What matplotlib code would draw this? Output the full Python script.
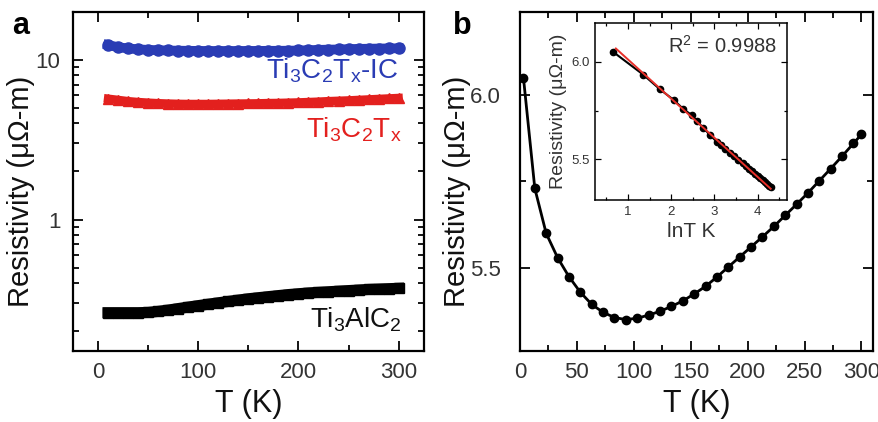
import matplotlib
matplotlib.use('Agg')
import matplotlib.pyplot as plt
from matplotlib.ticker import MultipleLocator, LogLocator, NullFormatter, FixedLocator

plt.rcParams['font.family'] = 'Liberation Sans'
plt.rcParams['mathtext.fontset'] = 'custom'
plt.rcParams['mathtext.rm'] = 'Liberation Sans'
plt.rcParams['mathtext.it'] = 'Liberation Sans:italic'

# panel a: resistivity vs T (log scale)
T_a = [10, 20, 30, 40, 50, 60, 70, 80, 90, 100, 110, 120, 130, 140, 150,
       160, 170, 180, 190, 200, 210, 220, 230, 240, 250, 260, 270, 280, 290, 300]
rho_ic = [12.4, 12.0, 11.8, 11.65, 11.55, 11.5, 11.45, 11.42, 11.4, 11.38, 11.37, 11.37, 11.37, 11.37, 11.38,
          11.38, 11.4, 11.4, 11.42, 11.45, 11.5, 11.55, 11.6, 11.62, 11.68, 11.72, 11.75, 11.78, 11.8, 11.82]
rho_mx = [5.72, 5.62, 5.52, 5.45, 5.40, 5.36, 5.33, 5.31, 5.30, 5.30, 5.30, 5.31, 5.32, 5.33, 5.34,
          5.35, 5.37, 5.38, 5.40, 5.42, 5.45, 5.48, 5.52, 5.55, 5.58, 5.62, 5.66, 5.70, 5.74, 5.78]
rho_max = [0.261, 0.261, 0.261, 0.261, 0.262, 0.266, 0.271, 0.277, 0.283, 0.289, 0.295, 0.301, 0.307, 0.313, 0.319,
           0.324, 0.329, 0.334, 0.339, 0.343, 0.347, 0.350, 0.353, 0.356, 0.359, 0.362, 0.365, 0.367, 0.369, 0.371]

# panel b: Ti3C2Tx-IC resistivity vs T
T_b = [3, 13, 23, 33, 43, 53, 63, 73, 83, 93, 103, 113, 123, 133, 143, 153, 163,
       173, 183, 193, 203, 213, 223, 233, 243, 253, 263, 273, 283, 293, 300]
rho_b = [6.05, 5.73, 5.60, 5.53, 5.475, 5.43, 5.395, 5.372, 5.357, 5.351, 5.355, 5.364, 5.375, 5.389, 5.405,
         5.425, 5.447, 5.474, 5.503, 5.532, 5.561, 5.590, 5.620, 5.652, 5.684, 5.717, 5.752, 5.787, 5.823,
         5.860, 5.886]

# inset: resistivity vs lnT with linear fit
lnT = [0.66, 1.35, 1.74, 2.06, 2.28, 2.47, 2.59, 2.74, 2.89, 3.05, 3.15, 3.25, 3.35, 3.45, 3.55, 3.65,
       3.72, 3.80, 3.87, 3.94, 4.00, 4.06, 4.12, 4.17, 4.22, 4.27, 4.30]
rho_ln = [6.051, 5.935, 5.859, 5.804, 5.758, 5.727, 5.696, 5.662, 5.625, 5.590, 5.571, 5.552, 5.534,
          5.515, 5.497, 5.478, 5.465, 5.450, 5.437, 5.424, 5.413, 5.402, 5.391, 5.381, 5.372, 5.363, 5.357]
fit_x = [0.72, 4.30]
fit_slope = -0.2014
fit_icpt = 6.214

fig = plt.figure(figsize=(8.79, 4.22), dpi=100)
gray = '#333333'


def style(ax, lw=1.6, size=16, maj=7, mnr=4):
    for s in ax.spines.values():
        s.set_linewidth(lw)
    ax.tick_params(which='both', direction='in', top=True, right=True,
                   width=lw * 0.8, labelsize=size, labelcolor=gray)
    ax.tick_params(which='major', length=maj)
    ax.tick_params(which='minor', length=mnr)


# ---- panel a
ax1 = fig.add_axes([0.083, 0.168, 0.399, 0.804])
ax1.plot(T_a, rho_ic, '-o', color='#2a3cb4', lw=7, ms=8)
ax1.plot(T_a, rho_mx, '-^', color='#e3201e', lw=6, ms=7)
ax1.plot(T_a, rho_max, '-s', color='black', lw=8, ms=7)
ax1.set_yscale('log')
ax1.set_xlim(-25, 325)
ax1.set_ylim(0.15, 20)
ax1.xaxis.set_major_locator(MultipleLocator(100))
ax1.xaxis.set_minor_locator(MultipleLocator(50))
ax1.yaxis.set_major_locator(FixedLocator([1, 10]))
ax1.yaxis.set_major_formatter(plt.FixedFormatter(['1', '10']))
ax1.yaxis.set_minor_locator(LogLocator(base=10, subs=range(2, 10)))
ax1.yaxis.set_minor_formatter(NullFormatter())
style(ax1)
ax1.tick_params(axis='x', pad=8)
ax1.tick_params(axis='y', pad=9)
ax1.set_xlabel('T (K)', fontsize=22, color='#111111')
ax1.set_ylabel('Resistivity (\u03bc\u03a9-m)', fontsize=21, color='#111111')
ax1.yaxis.set_label_coords(-0.108, 0.47)

ax1.text(300, 7.6, r'Ti$_\mathregular{3}$C$_\mathregular{2}$T$_\mathregular{x}$-IC', color='#2a3cb4',
         fontsize=20, ha='right', va='baseline')
ax1.text(303, 3.25, r'Ti$_\mathregular{3}$C$_\mathregular{2}$T$_\mathregular{x}$', color='#e3201e',
         fontsize=20, ha='right', va='baseline')
ax1.text(303, 0.212, r'Ti$_\mathregular{3}$AlC$_\mathregular{2}$', color='#111111',
         fontsize=20, ha='right', va='baseline')
fig.text(0.014, 0.92, 'a', fontsize=22, fontweight='bold')

# ---- panel b
ax2 = fig.add_axes([0.5916, 0.168, 0.4014, 0.804])
ax2.plot(T_b, rho_b, '-o', color='black', lw=2, ms=6)
ax2.set_xlim(0, 310)
ax2.set_ylim(5.26, 6.24)
ax2.xaxis.set_major_locator(MultipleLocator(50))
ax2.xaxis.set_minor_locator(MultipleLocator(25))
ax2.yaxis.set_major_locator(MultipleLocator(0.5))
ax2.yaxis.set_minor_locator(MultipleLocator(0.25))
ax2.yaxis.set_major_formatter(plt.FormatStrFormatter('%.1f'))
style(ax2)
ax2.tick_params(axis='x', pad=8)
ax2.tick_params(axis='y', pad=14)
ax2.set_xlabel('T (K)', fontsize=22, color='#111111')
ax2.set_ylabel('Resistivity (\u03bc\u03a9-m)', fontsize=21, color='#111111')
ax2.yaxis.set_label_coords(-0.14, 0.47)
fig.text(0.515, 0.92, 'b', fontsize=22, fontweight='bold')

# ---- inset
ax3 = fig.add_axes([0.677, 0.526, 0.218, 0.4195])
ax3.plot(lnT, rho_ln, '-o', color='black', lw=1.5, ms=4.5)
ax3.plot(fit_x, [fit_icpt + fit_slope * x for x in fit_x], color='#e8302a', lw=1.4)
ax3.set_xlim(0.24, 4.67)
ax3.set_ylim(5.29, 6.2)
ax3.xaxis.set_major_locator(MultipleLocator(1))
ax3.xaxis.set_minor_locator(MultipleLocator(0.5))
ax3.yaxis.set_major_locator(MultipleLocator(0.5))
ax3.yaxis.set_minor_locator(MultipleLocator(0.25))
ax3.yaxis.set_major_formatter(plt.FormatStrFormatter('%.1f'))
style(ax3, lw=1.1, size=9.5, maj=4, mnr=2.5)
ax3.tick_params(pad=4)
ax3.set_xlabel('lnT K', fontsize=15, color=gray, labelpad=3)
ax3.set_ylabel('Resistivity (\u03bc\u03a9-m)', fontsize=14, color=gray, labelpad=3)
ax3.text(0.95, 0.93, r'R$^\mathregular{2}$ = 0.9988', transform=ax3.transAxes,
         fontsize=14.5, color=gray, ha='right', va='top')

fig.savefig('out.png', dpi=100)
